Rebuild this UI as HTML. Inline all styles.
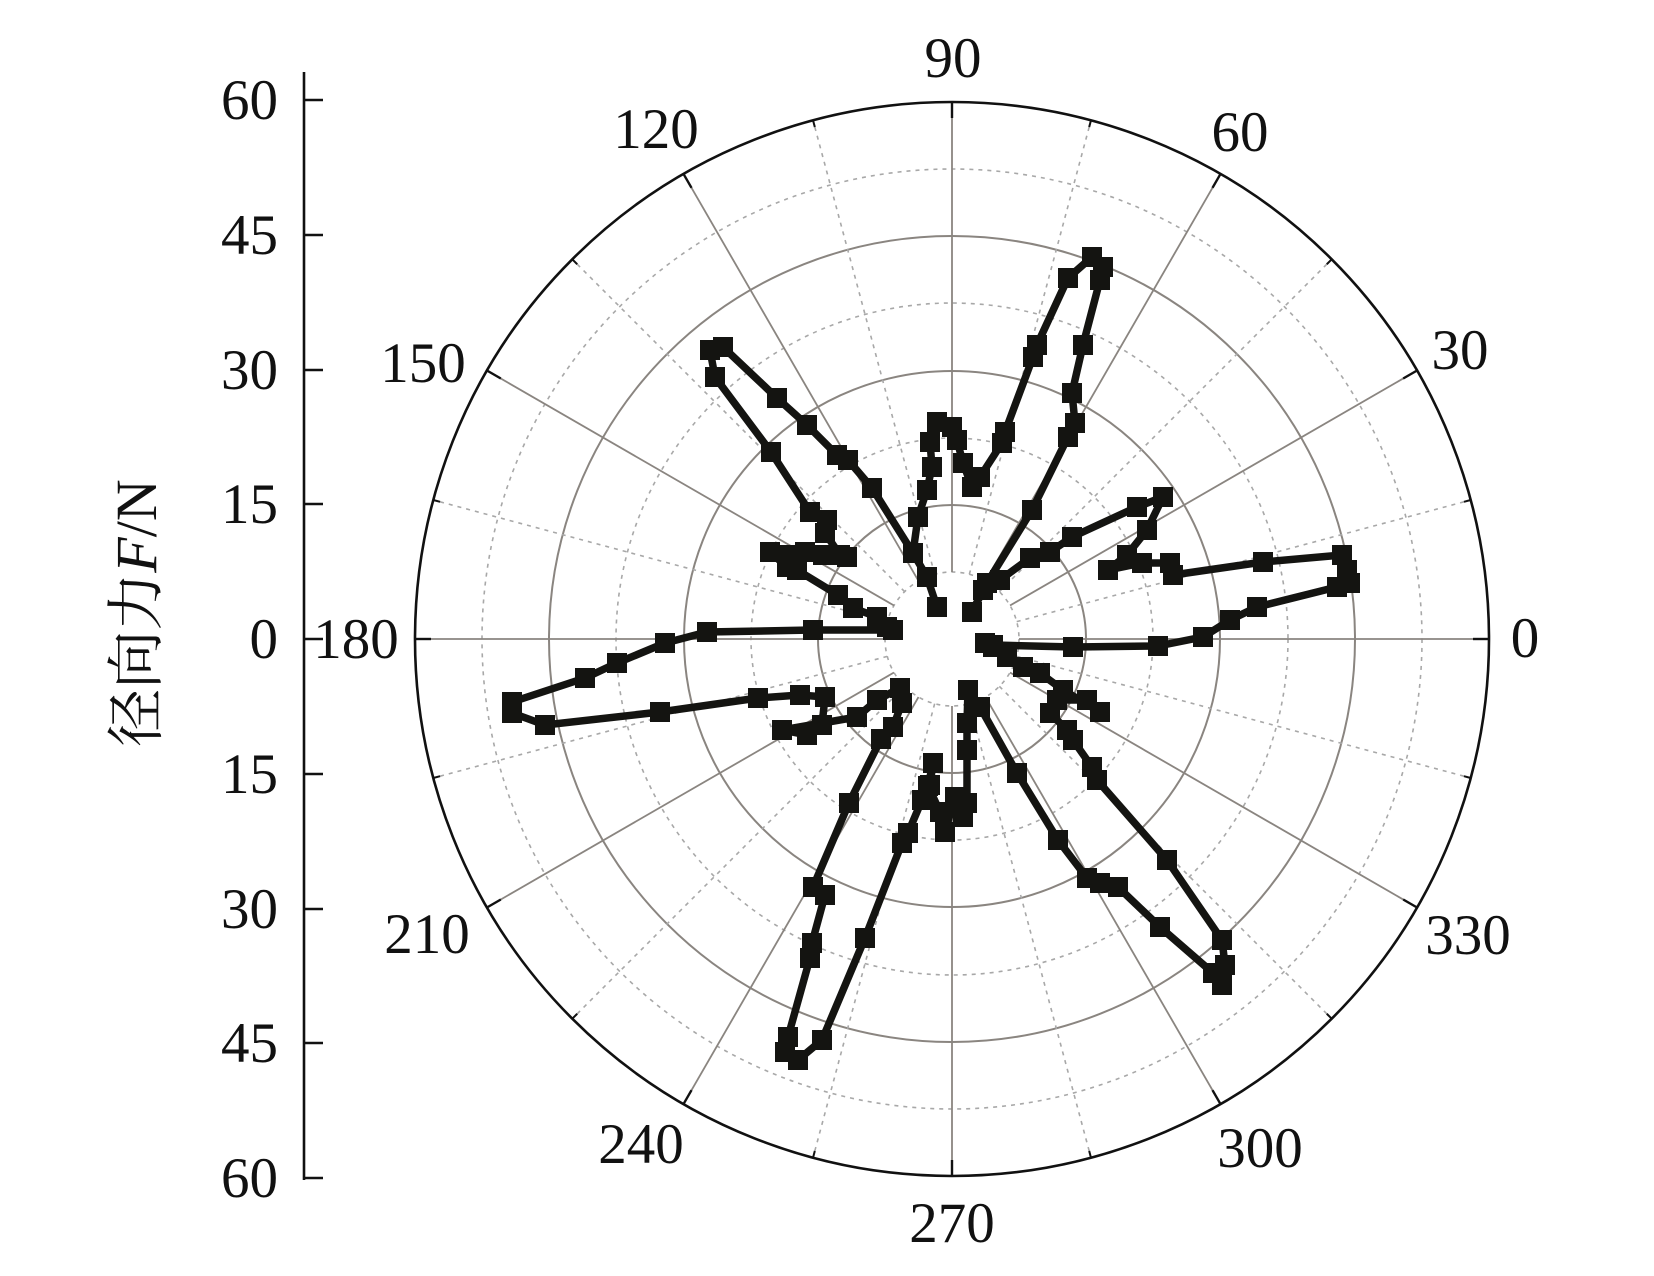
<!DOCTYPE html>
<html>
<head>
<meta charset="utf-8">
<style>
html,body{margin:0;padding:0;background:#fff;}
svg{display:block;}
.t{font-family:"Liberation Serif","Noto Serif CJK SC",serif;font-size:57px;fill:#111;}
</style>
</head>
<body>
<svg width="1654" height="1276" viewBox="0 0 1654 1276" xmlns="http://www.w3.org/2000/svg">
<defs>
<marker id="sq" markerWidth="22" markerHeight="22" refX="11" refY="11" markerUnits="userSpaceOnUse">
<rect x="1" y="1" width="20" height="20" fill="#141411"/>
</marker>
</defs>
<rect width="1654" height="1276" fill="#fff"/>

<!-- dotted circles -->
<g fill="none" stroke="#a8a8a8" stroke-width="1.6" stroke-dasharray="4 5">
<circle cx="952" cy="639" r="67"/>
<circle cx="952" cy="639" r="201"/>
<circle cx="952" cy="639" r="336"/>
<circle cx="952" cy="639" r="470"/>
</g>
<!-- solid circles -->
<g fill="none" stroke="#8a8580" stroke-width="2">
<circle cx="952" cy="639" r="134"/>
<circle cx="952" cy="639" r="268"/>
<circle cx="952" cy="639" r="403"/>
</g>
<!-- solid spokes -->
<g stroke="#8a8580" stroke-width="1.8">
<line x1="1019" y1="639" x2="1489" y2="639" transform="rotate(0 952 639)"/>
<line x1="1019" y1="639" x2="1489" y2="639" transform="rotate(-30 952 639)"/>
<line x1="1019" y1="639" x2="1489" y2="639" transform="rotate(-60 952 639)"/>
<line x1="1019" y1="639" x2="1489" y2="639" transform="rotate(-90 952 639)"/>
<line x1="1019" y1="639" x2="1489" y2="639" transform="rotate(-120 952 639)"/>
<line x1="1019" y1="639" x2="1489" y2="639" transform="rotate(-150 952 639)"/>
<line x1="1019" y1="639" x2="1489" y2="639" transform="rotate(-180 952 639)"/>
<line x1="1019" y1="639" x2="1489" y2="639" transform="rotate(-210 952 639)"/>
<line x1="1019" y1="639" x2="1489" y2="639" transform="rotate(-240 952 639)"/>
<line x1="1019" y1="639" x2="1489" y2="639" transform="rotate(-270 952 639)"/>
<line x1="1019" y1="639" x2="1489" y2="639" transform="rotate(-300 952 639)"/>
<line x1="1019" y1="639" x2="1489" y2="639" transform="rotate(-330 952 639)"/>
</g>
<!-- dotted spokes -->
<g stroke="#a8a8a8" stroke-width="1.6" stroke-dasharray="4 5">
<line x1="1019" y1="639" x2="1489" y2="639" transform="rotate(-15 952 639)"/>
<line x1="1019" y1="639" x2="1489" y2="639" transform="rotate(-45 952 639)"/>
<line x1="1019" y1="639" x2="1489" y2="639" transform="rotate(-75 952 639)"/>
<line x1="1019" y1="639" x2="1489" y2="639" transform="rotate(-105 952 639)"/>
<line x1="1019" y1="639" x2="1489" y2="639" transform="rotate(-135 952 639)"/>
<line x1="1019" y1="639" x2="1489" y2="639" transform="rotate(-165 952 639)"/>
<line x1="1019" y1="639" x2="1489" y2="639" transform="rotate(-195 952 639)"/>
<line x1="1019" y1="639" x2="1489" y2="639" transform="rotate(-225 952 639)"/>
<line x1="1019" y1="639" x2="1489" y2="639" transform="rotate(-255 952 639)"/>
<line x1="1019" y1="639" x2="1489" y2="639" transform="rotate(-285 952 639)"/>
<line x1="1019" y1="639" x2="1489" y2="639" transform="rotate(-315 952 639)"/>
<line x1="1019" y1="639" x2="1489" y2="639" transform="rotate(-345 952 639)"/>
</g>
<!-- outer circle & ticks -->
<circle cx="952" cy="639" r="537" fill="none" stroke="#111" stroke-width="2.6"/>
<g stroke="#111" stroke-width="2.4">
<line x1="1473" y1="639" x2="1489" y2="639" transform="rotate(0 952 639)"/>
<line x1="1473" y1="639" x2="1489" y2="639" transform="rotate(-30 952 639)"/>
<line x1="1473" y1="639" x2="1489" y2="639" transform="rotate(-60 952 639)"/>
<line x1="1473" y1="639" x2="1489" y2="639" transform="rotate(-90 952 639)"/>
<line x1="1473" y1="639" x2="1489" y2="639" transform="rotate(-120 952 639)"/>
<line x1="1473" y1="639" x2="1489" y2="639" transform="rotate(-150 952 639)"/>
<line x1="1473" y1="639" x2="1489" y2="639" transform="rotate(-180 952 639)"/>
<line x1="1473" y1="639" x2="1489" y2="639" transform="rotate(-210 952 639)"/>
<line x1="1473" y1="639" x2="1489" y2="639" transform="rotate(-240 952 639)"/>
<line x1="1473" y1="639" x2="1489" y2="639" transform="rotate(-270 952 639)"/>
<line x1="1473" y1="639" x2="1489" y2="639" transform="rotate(-300 952 639)"/>
<line x1="1473" y1="639" x2="1489" y2="639" transform="rotate(-330 952 639)"/>
</g>
<g stroke="#111" stroke-width="2">
<line x1="1482" y1="639" x2="1489" y2="639" transform="rotate(-15 952 639)"/>
<line x1="1482" y1="639" x2="1489" y2="639" transform="rotate(-45 952 639)"/>
<line x1="1482" y1="639" x2="1489" y2="639" transform="rotate(-75 952 639)"/>
<line x1="1482" y1="639" x2="1489" y2="639" transform="rotate(-105 952 639)"/>
<line x1="1482" y1="639" x2="1489" y2="639" transform="rotate(-135 952 639)"/>
<line x1="1482" y1="639" x2="1489" y2="639" transform="rotate(-165 952 639)"/>
<line x1="1482" y1="639" x2="1489" y2="639" transform="rotate(-195 952 639)"/>
<line x1="1482" y1="639" x2="1489" y2="639" transform="rotate(-225 952 639)"/>
<line x1="1482" y1="639" x2="1489" y2="639" transform="rotate(-255 952 639)"/>
<line x1="1482" y1="639" x2="1489" y2="639" transform="rotate(-285 952 639)"/>
<line x1="1482" y1="639" x2="1489" y2="639" transform="rotate(-315 952 639)"/>
<line x1="1482" y1="639" x2="1489" y2="639" transform="rotate(-345 952 639)"/>
</g>

<!-- data -->
<g fill="none" stroke="#141411" stroke-width="7.5" stroke-linejoin="round" stroke-linecap="round">
<polyline marker-start="url(#sq)" marker-mid="url(#sq)" marker-end="url(#sq)" points="985,643 993,645 1073,647 1158,646 1203,637 1230,620 1257,607 1337,587 1350,583 1347,570 1342,555 1263,562 1173,575 1170,563 1142,563 1108,570 1127,555 1147,530 1163,497 1137,507 1072,537 1050,552 1030,558 1000,580 983,590 972,612 987,583 1032,510 1068,437 1075,423 1072,393 1083,345 1100,280 1103,267 1092,257 1068,278 1037,345 1033,357 1005,432 1002,443 980,477 972,487 963,463 957,440 952,427 937,422 930,442 932,467 927,490 918,517 913,553 872,488 848,460 837,455 807,425 777,398 723,347 710,350 715,377 771,452 810,512 827,520 825,533 840,555 847,557 823,555 805,552 790,555 770,552 787,567 797,570 838,595 853,608 877,617 887,627 893,630 813,630 707,632 665,643 617,663 585,678 512,702 512,713 545,725 660,712 758,698 800,695 825,697 822,725 807,735 782,730 857,717 877,700 900,688 902,703 893,727 881,739 849,803 813,887 825,895 812,943 810,958 788,1037 785,1052 798,1060 822,1040 865,938 902,843 908,833 922,800 930,785 933,763 928,786 940,812 945,832 955,797 963,817 967,803 967,750 967,723 968,690 980,707 1017,773 1058,840 1087,878 1100,883 1118,887 1160,927 1213,973 1222,985 1225,965 1222,940 1167,860 1097,780 1092,767 1073,740 1067,730 1050,713 1057,700 1087,700 1100,712 1063,690 1040,673 1023,667 1007,657 993,647"/>
<polyline marker-mid="url(#sq)" marker-end="url(#sq)" points="913,553 927,577 937,607"/>
</g>

<!-- left axis -->
<g stroke="#111" stroke-width="2.6">
<line x1="304" y1="72" x2="304" y2="1180"/>
<line x1="303" y1="100" x2="323" y2="100"/>
<line x1="303" y1="235" x2="323" y2="235"/>
<line x1="303" y1="370" x2="323" y2="370"/>
<line x1="303" y1="504" x2="323" y2="504"/>
<line x1="303" y1="639" x2="323" y2="639"/>
<line x1="303" y1="774" x2="323" y2="774"/>
<line x1="303" y1="909" x2="323" y2="909"/>
<line x1="303" y1="1043" x2="323" y2="1043"/>
<line x1="303" y1="1178" x2="323" y2="1178"/>
</g>
<g class="t" text-anchor="end">
<text x="278" y="119">60</text>
<text x="278" y="254">45</text>
<text x="278" y="389">30</text>
<text x="278" y="523">15</text>
<text x="278" y="658">0</text>
<text x="278" y="793">15</text>
<text x="278" y="928">30</text>
<text x="278" y="1062">45</text>
<text x="278" y="1197">60</text>
</g>

<!-- angle labels -->
<g class="t" text-anchor="middle">
<text x="1525" y="657">0</text>
<text x="1460" y="369">30</text>
<text x="1240" y="151">60</text>
<text x="953" y="77">90</text>
<text x="656" y="148">120</text>
<text x="423" y="382">150</text>
<text x="356" y="658">180</text>
<text x="427" y="953">210</text>
<text x="641" y="1163">240</text>
<text x="952" y="1242">270</text>
<text x="1260" y="1167">300</text>
<text x="1468" y="954">330</text>
</g>

<!-- y axis title -->
<text transform="translate(156,613) rotate(-90)" text-anchor="middle" style="font-family:'Liberation Serif','Noto Serif CJK SC',serif;font-size:58px;fill:#111;">径向力<tspan font-style="italic">F</tspan>/N</text>
</svg>
</body>
</html>
